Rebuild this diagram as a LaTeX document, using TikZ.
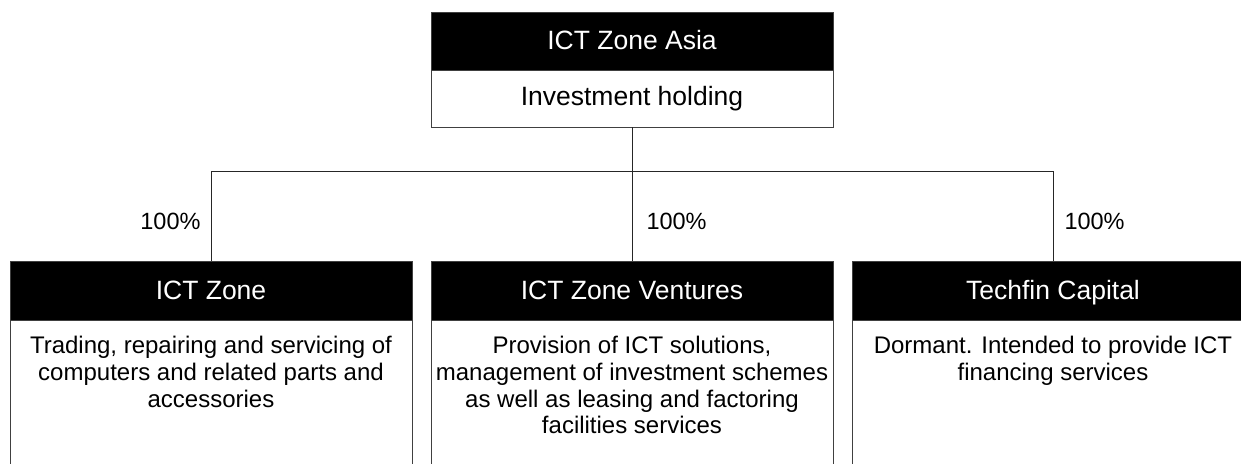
\documentclass[tikz,border=0pt]{standalone}
\usepackage{fontspec}
\setmainfont{Liberation Sans}
\usetikzlibrary{positioning}

\begin{document}
\begin{tikzpicture}[x=0.5pt, y=-0.5pt,
rectHead/.style={rectangle, draw=black!75, fill=black, text=white, minimum width=201pt, minimum height=29.5pt, inner sep=0pt, outer sep=0pt, text height=9.3pt, text depth=0.8pt, font=\fontsize{13.25}{14}\selectfont},
rectBody/.style={rectangle, draw=black!75, fill=white, minimum width=201pt, inner sep=0pt, outer sep=0pt, font=\fontsize{13.25}{14}\selectfont},
rectText/.style={rectangle, inner sep=0pt, align=center, font=\fontsize{12}{13.3}\selectfont},
share/.style={inner sep=0pt, font=\fontsize{11.75}{12}\selectfont},
link/.style={draw=black!85, line width=0.5pt}
]

\useasboundingbox (0,0) rectangle (1241,463);
\clip (0,0) rectangle (1241,463);

% holding company
\node[rectHead, minimum height=29pt] (asia) at (632, 41) {ICT Zone Asia};
\node[rectBody, minimum height=28.5pt, below=0pt of asia] (asiaBody) {Investment holding};

% subsidiaries
\node[rectHead] (zone) at (211, 290.5) {ICT Zone};
\node[rectHead] (ventures) at (632, 290.5) {ICT Zone Ventures};
\node[rectHead] (techfin) at (1053, 290.5) {Techfin Capital};

\node[rectBody, minimum height=90pt, below=0pt of zone] (zoneBody) {};
\node[rectBody, minimum height=90pt, below=0pt of ventures] (venturesBody) {};
\node[rectBody, minimum height=90pt, below=0pt of techfin] (techfinBody) {};

\node[rectText, below=8pt of zoneBody.north] (zoneText) {Trading, repairing and servicing of\\computers and related parts and\\accessories};
\node[rectText, below=8pt of venturesBody.north] (venturesText) {Provision of ICT solutions,\\management of investment schemes\\as well as leasing and factoring\\facilities services};
\node[rectText, below=8pt of techfinBody.north] (techfinText) {Dormant. Intended to provide ICT\\financing services};

% ownership lines
\coordinate[below=22pt of asiaBody.south] (bus);
\draw[link] (asiaBody.south) -- (bus);
\draw[link] (bus) -| (zone.north) node[share, pos=0.78, left=5pt] (pctZone) {100\%};
\draw[link] (bus) -| (ventures.north) node[share, pos=0.78, right=7pt] (pctVentures) {100\%};
\draw[link] (bus) -| (techfin.north) node[share, pos=0.78, right=5.5pt] (pctTechfin) {100\%};

\end{tikzpicture}
\end{document}
